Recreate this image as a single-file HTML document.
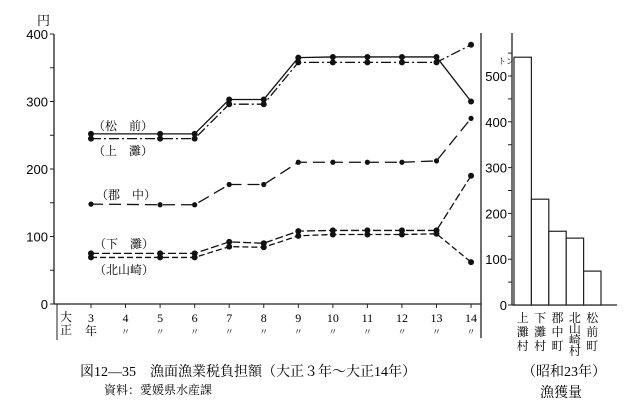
<!DOCTYPE html>
<html><head><meta charset="utf-8"><style>
body{margin:0;background:#fff;}
svg{display:block;font-family:"Liberation Serif","Noto Serif CJK SC","Noto Sans CJK JP",serif;}
</style></head><body>
<svg width="640" height="417" viewBox="0 0 640 417">
<g id="left"></g>
<g id="right"></g>
<text x="80" y="376" font-size="14">図12―35　漁面漁業税負担額（大正３年～大正14年）</text>
<text x="104" y="394" font-size="12">資料：愛媛県水産課</text>
<text x="522" y="376" font-size="14">（昭和23年）</text>
<text x="540" y="397" font-size="14">漁獲量</text>
</svg>
<script>
const years=[3,4,5,6,7,8,9,10,11,12,13,14];
const yTicks=[0,100,200,300,400];
const matsumae=[252,null,252,252,303,303,365,366,366,366,366,300];
const kaminada=[245,null,245,245,296,296,358,358,358,358,358,384];
const gunchu=[148,null,147,147,177,177,210,210,210,210,212,275];
const shimonada=[75,null,75,75,92,90,108,109,109,109,109,190];
const kitayamazaki=[69,null,69,69,85,84,101,103,103,103,104,62];
const barCats=["上灘村","下灘村","郡中町","北山崎村","松前町"];
const barValues=[541,231,161,146,74];
const barTicks=[0,100,200,300,400,500];
const NS="http://www.w3.org/2000/svg";
function mk(p,t,a){const e=document.createElementNS(NS,t);for(const k in a)e.setAttribute(k,a[k]);p.appendChild(e);return e;}
const L=document.getElementById('left'),R=document.getElementById('right');
const xs=y=>91+(y-3)*34.55, ys=v=>304-v*0.675;
// axes
let e=mk(L,'line',{x1:54,y1:34,x2:54,y2:304,stroke:'#222','stroke-width':1.3});

e=mk(L,'line',{x1:54,y1:304,x2:481,y2:304,stroke:'#222','stroke-width':1.3});

e=mk(L,'line',{x1:57,y1:304,x2:57,y2:340,stroke:'#222','stroke-width':1});

e=mk(L,'line',{x1:481,y1:33,x2:481,y2:338,stroke:'#222','stroke-width':1.3});

for(let v=0;v<=400;v+=50){mk(L,'line',{x1:50,y1:ys(v),x2:54,y2:ys(v),stroke:'#222'});}
yTicks.forEach(v=>{const t=mk(L,'text',{x:48,y:ys(v)+5,'font-size':13,'text-anchor':'end','font-family':'Liberation Sans'});t.textContent=v;
});
e=mk(L,'text',{x:37,y:25,'font-size':13});e.textContent='円';

e=mk(L,'text',{x:60,y:321,'font-size':12});e.textContent='大';

e=mk(L,'text',{x:60,y:334,'font-size':12});e.textContent='正';

years.forEach((y,i)=>{mk(L,'line',{x1:xs(y),y1:304,x2:xs(y),y2:308,stroke:'#222'});
const t=mk(L,'text',{x:xs(y),y:322,'font-size':12,'text-anchor':'middle'});t.textContent=y;

const u=mk(L,'text',{x:xs(y),y:335,'font-size':i==0?12:9,'text-anchor':'middle'});u.textContent=i==0?'年':'〃';
});
function series(arr,dash,name,r){const pts=[];arr.forEach((v,i)=>{if(v!=null)pts.push([xs(years[i]),ys(v)]);});
const p=mk(L,'polyline',{points:pts.map(q=>q.join(',')).join(' '),fill:'none',stroke:'#111','stroke-width':1.3,'stroke-dasharray':dash});

pts.forEach(q=>{const c=mk(L,'circle',{cx:q[0],cy:q[1],r:r,fill:'#111'});});}
series(matsumae,'none','matsumae',3);
series(kaminada,'10,3,2,3','kaminada',3);
series(gunchu,'12,6','gunchu',2.6);
series(shimonada,'8,3','shimonada',3);
series(kitayamazaki,'6,3','kitayamazaki',3);
[['（松　前）',97,130],['（上　灘）',97,155],['（郡　中）',100,199],['（下　灘）',98,248],['（北山崎）',98,274]].forEach(a=>{
const t=mk(L,'text',{x:a[1]-4,y:a[2],'font-size':12});t.textContent=a[0];});
// bar chart
const by=v=>305-v*0.458, bx=i=>514+i*17.4;
e=mk(R,'line',{x1:512,y1:33,x2:512,y2:305,stroke:'#222','stroke-width':1.3});

e=mk(R,'line',{x1:512,y1:305,x2:617,y2:305,stroke:'#222','stroke-width':1.3});

for(let v=0;v<=550;v+=50){mk(R,'line',{x1:508,y1:by(v),x2:512,y2:by(v),stroke:'#222'});}
barTicks.forEach(v=>{const t=mk(R,'text',{x:507,y:by(v)+5,'font-size':13,'text-anchor':'end','font-family':'Liberation Sans'});t.textContent=v;
});
e=mk(R,'text',{x:498,y:64,'font-size':8});e.textContent='トン';

barValues.forEach((v,i)=>{const r=mk(R,'rect',{x:bx(i),y:by(v),width:17.4,height:305-by(v),fill:'#fff',stroke:'#222','stroke-width':1.2});

[...barCats[i]].forEach((ch,j)=>{const t=mk(R,'text',{x:bx(i)+8.7,y:322+j*(barCats[i].length>3?11:14),'font-size':12,'text-anchor':'middle'});t.textContent=ch;
});});
</script>
</body></html>
